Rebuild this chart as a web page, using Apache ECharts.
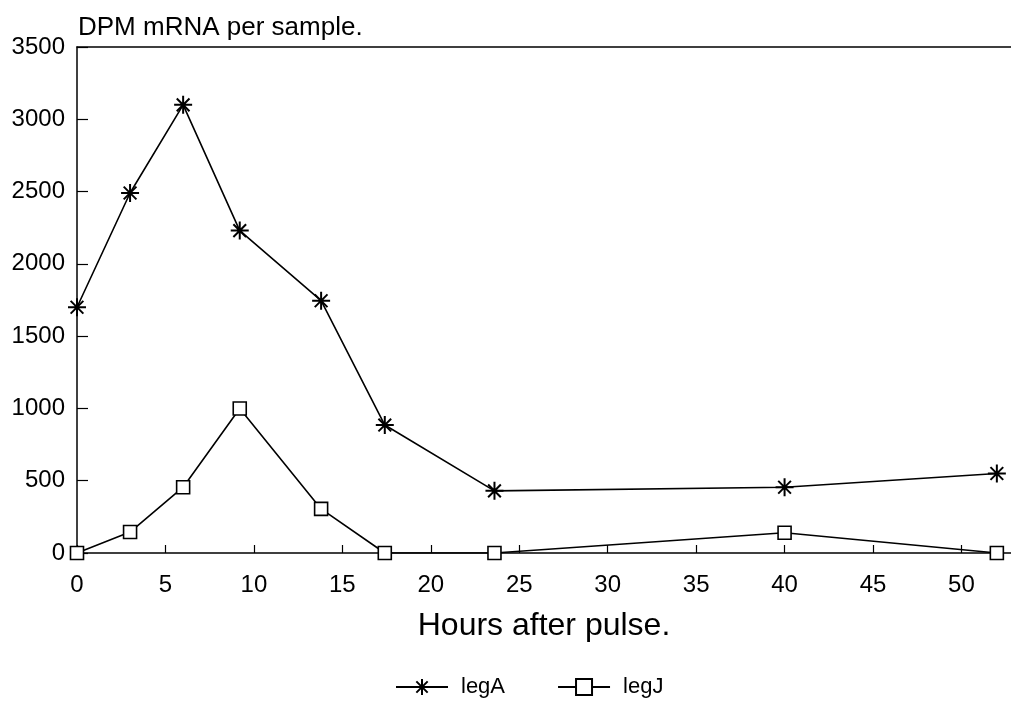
<!DOCTYPE html>
<html>
<head>
<meta charset="utf-8">
<script src="https://cdn.jsdelivr.net/npm/echarts@6/dist/echarts.min.js"></script>
<style>html,body{margin:0;padding:0;background:#fff}#c{width:1011px;height:715px}</style>
</head>
<body>
<div id="c"></div>
<script>
var hoursA = [0, 3, 6, 9.2, 13.8, 17.4, 23.6, 40, 52];
var legA = [1700, 2490, 3100, 2230, 1745, 885, 430, 455, 550];
var hoursJ = [0, 3, 6, 9.2, 13.8, 17.4, 23.6, 40, 52];
var legJ = [0, 145, 455, 1000, 305, 0, 0, 140, 0];
var seriesNames = ['legA', 'legJ'];
var yTitle = 'DPM mRNA per sample.';
var xTitle = 'Hours after pulse.';

var FONT = '"Liberation Sans", Arial, Helvetica, sans-serif';
var starPath = 'path://M0,-10L0,10M-10,0L10,0M-7.07,-7.07L7.07,7.07M-7.07,7.07L7.07,-7.07';

function pairs(xs, ys) { return xs.map(function (x, i) { return [x, ys[i]]; }); }

var chart = echarts.init(document.getElementById('c'), null, {renderer: 'canvas'});
chart.setOption({
  animation: false,
  backgroundColor: '#fff',
  textStyle: {fontFamily: FONT, color: '#000'},
  grid: {left: 77, top: 47, right: 0, bottom: 162, containLabel: false},
  legend: {
    data: seriesNames,
    left: 390, top: 671,
    itemWidth: 52, itemHeight: 20, itemGap: 52,
    textStyle: {fontFamily: FONT, fontSize: 22, color: '#000', padding: [0, 0, 0, 8]}
  },
  xAxis: [{
    type: 'value', min: 0, max: 52.8, interval: 5,
    name: xTitle, nameLocation: 'middle', nameGap: 57,
    nameTextStyle: {fontFamily: FONT, fontSize: 32, color: '#000'},
    axisLine: {lineStyle: {color: '#000', width: 1.5}},
    axisTick: {inside: true, length: 8, lineStyle: {color: '#000', width: 1.2}},
    axisLabel: {showMaxLabel: false, fontSize: 24, color: '#000', margin: 20, fontFamily: FONT,
      formatter: function (v) { return String(v); }},
    splitLine: {show: false}
  }, {
    type: 'value', min: 0, max: 52.8, position: 'top',
    axisLine: {show: true, lineStyle: {color: '#000', width: 1.5}},
    axisTick: {show: false}, axisLabel: {show: false}, splitLine: {show: false}
  }],
  yAxis: {
    type: 'value', min: 0, max: 3500, interval: 500,
    name: yTitle, nameLocation: 'end', nameGap: 6,
    nameTextStyle: {fontFamily: FONT, fontSize: 26, color: '#000', align: 'left', verticalAlign: 'bottom', padding: [0, 0, 0, 1]},
    axisLine: {show: true, lineStyle: {color: '#000', width: 1.5}},
    axisTick: {show: true, inside: true, length: 11, lineStyle: {color: '#000', width: 1.2}},
    axisLabel: {fontSize: 24, color: '#000', margin: 12, fontFamily: FONT,
      formatter: function (v) { return String(v); }},
    splitLine: {show: false}
  },
  series: [{
    name: seriesNames[0], type: 'line', data: pairs(hoursA, legA),
    symbol: starPath, symbolSize: 18, showAllSymbol: true,
    lineStyle: {color: '#000', width: 1.6},
    itemStyle: {color: '#000', borderColor: '#000', borderWidth: 2},
    z: 3
  }, {
    name: seriesNames[1], type: 'line', data: pairs(hoursJ, legJ),
    symbol: 'rect', symbolSize: 13, showAllSymbol: true,
    lineStyle: {color: '#000', width: 1.6},
    itemStyle: {color: '#fff', borderColor: '#000', borderWidth: 1.6},
    z: 3
  }]
});
</script>
</body>
</html>
